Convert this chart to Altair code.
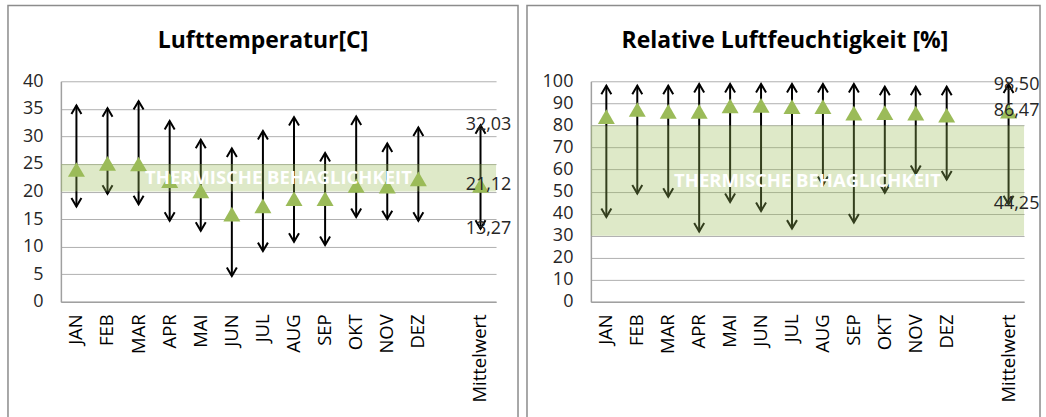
import altair as alt
import pandas as pd

# ---------------- data ----------------
months = ["JAN", "FEB", "MAR", "APR", "MAI", "JUN", "JUL", "AUG", "SEP", "OKT", "NOV", "DEZ"]
gap_cat = " "
avg_cat = "Mittelwert"
categories = months + [gap_cat, avg_cat]

temp_max = [35.6, 35.1, 36.4, 32.8, 29.4, 27.8, 31.0, 33.5, 27.0, 33.6, 28.7, 31.6]
temp_mean = [24.0, 25.1, 25.0, 22.0, 20.1, 15.9, 17.4, 18.7, 18.7, 21.1, 21.0, 22.3]
temp_min = [17.3, 19.6, 17.7, 14.7, 12.9, 4.7, 9.2, 10.9, 10.3, 15.4, 15.0, 14.7]
temp_avg = [32.03, 21.12, 13.27]  # max, mean, min
temp_band = [20, 25]

hum_max = [98.0, 98.0, 98.0, 98.8, 98.8, 98.8, 98.8, 98.8, 98.8, 97.5, 97.5, 97.5]
hum_mean = [84.0, 87.2, 86.4, 86.4, 88.8, 89.1, 88.5, 88.5, 85.6, 85.8, 85.6, 84.6]
hum_min = [38.5, 49.1, 47.6, 31.9, 45.3, 41.2, 33.2, 53.0, 36.0, 49.5, 58.0, 55.5]
hum_avg = [98.50, 86.47, 44.25]
hum_band = [30, 80]

band_text = "THERMISCHE BEHAGLICHKEIT"
titles = ["Lufttemperatur[C]", "Relative Luftfeuchtigkeit [%]"]

FONT = "Open Sans"
GREEN = "#9bbb59"
UP_HEAD = "M-1,1.7L0,0L1,1.7"
DOWN_HEAD = "M-1,-1.7L0,0L1,-1.7"


def fmt(v):
    return f"{v:.2f}".replace(".", ",")


def panel(title, maxs, means, mins, avg, band, ymax, ystep, width, height,
          border, title_x):
    df = pd.DataFrame({
        "cat": months + [avg_cat],
        "hi": maxs + [avg[0]],
        "mean": means + [avg[1]],
        "lo": mins + [avg[2]],
    })
    lab = pd.DataFrame({
        "cat": [avg_cat] * 3,
        "val": avg,
        "txt": [fmt(v) for v in avg],
    })
    band_df = pd.DataFrame({"b0": [band[0]], "b1": [band[1]],
                            "mid": [(band[0] + band[1]) / 2]})
    one = pd.DataFrame({"title": [title]})

    xs = alt.Scale(domain=categories, type="band", paddingInner=0, paddingOuter=0)
    ys = alt.Scale(domain=[0, ymax], nice=False, zero=True)
    x_axis = alt.Axis(labelAngle=270, ticks=False, labelPadding=12,
                      labelColor="#000000", labelFontSize=18.5, grid=False,
                      title=None)
    x_enc = alt.X("cat:N", scale=xs, sort=categories, axis=x_axis)
    y_axis = alt.Axis(values=list(range(0, ymax + 1, ystep)), grid=True,
                      ticks=False, labelPadding=18, title=None)

    def Y(field):
        return alt.Y(field, scale=ys, axis=y_axis)

    rules = alt.Chart(df).mark_rule(color="#000000", strokeWidth=2).encode(
        x=x_enc, y=Y("lo:Q"), y2="hi:Q",
    )
    heads_up = alt.Chart(df).mark_point(
        shape=UP_HEAD, size=100, color="#000000", strokeWidth=2,
        filled=False, opacity=1,
    ).encode(x=x_enc, y=Y("hi:Q"))
    heads_down = alt.Chart(df).mark_point(
        shape=DOWN_HEAD, size=100, color="#000000", strokeWidth=2,
        filled=False, opacity=1,
    ).encode(x=x_enc, y=Y("lo:Q"))
    tri = alt.Chart(df).mark_point(
        shape="triangle-up", size=290, filled=True, color=GREEN, opacity=1,
        strokeWidth=0,
    ).encode(x=x_enc, y=Y("mean:Q"))
    band_rect = alt.Chart(band_df).mark_rect(color=GREEN, opacity=0.33).encode(
        x=alt.value(0), x2=alt.value(width), y=Y("b0:Q"), y2="b1:Q",
    )
    labels = alt.Chart(lab).mark_text(
        font=FONT, fontSize=18, color="#262626", dx=8, baseline="middle",
    ).encode(x=x_enc, y=Y("val:Q"), text="txt:N")
    btext = alt.Chart(band_df).mark_text(
        font=FONT, fontSize=18.5, fontWeight="bold", color="#ffffff",
        baseline="middle",
    ).encode(x=alt.value(width / 2), y=Y("mid:Q"), text=alt.value(band_text))
    frame = alt.Chart(one).mark_rect(
        fillOpacity=0, stroke="#8c8c8c", strokeWidth=1.5,
    ).encode(x=alt.value(border[0]), x2=alt.value(border[1]),
             y=alt.value(-76), y2=alt.value(height + 140))
    ttl = alt.Chart(one).mark_text(
        font=FONT, fontSize=23, fontWeight="bold", color="#000000",
        baseline="alphabetic", align="center",
    ).encode(x=alt.value(title_x), y=alt.value(-33), text="title:N")

    return alt.layer(
        frame, ttl, rules, heads_up, heads_down, tri, band_rect, labels, btext
    ).properties(width=width, height=height)


left = panel(titles[0], temp_max, temp_mean, temp_min, temp_avg,
             temp_band, 40, 5, 436, 221, (-53, 458), 202.5)
right = panel(titles[1], hum_max, hum_mean, hum_min,
              hum_avg, hum_band, 100, 10, 434, 221, (-64, 450), 194.5)

chart = alt.hconcat(left, right, spacing=95, bounds="flush").properties(
    padding={"left": 7, "top": 4, "right": 5, "bottom": 0},
    background="#ffffff",
).configure_view(stroke=None).configure_axis(
    labelFont=FONT, labelFontSize=18, labelColor="#262626",
    gridColor="#b0b0b0", gridWidth=1, domainColor="#a0a0a0", domainWidth=1.5,
)

chart.save("out.html", embed_options={"renderer": "svg", "actions": False})
